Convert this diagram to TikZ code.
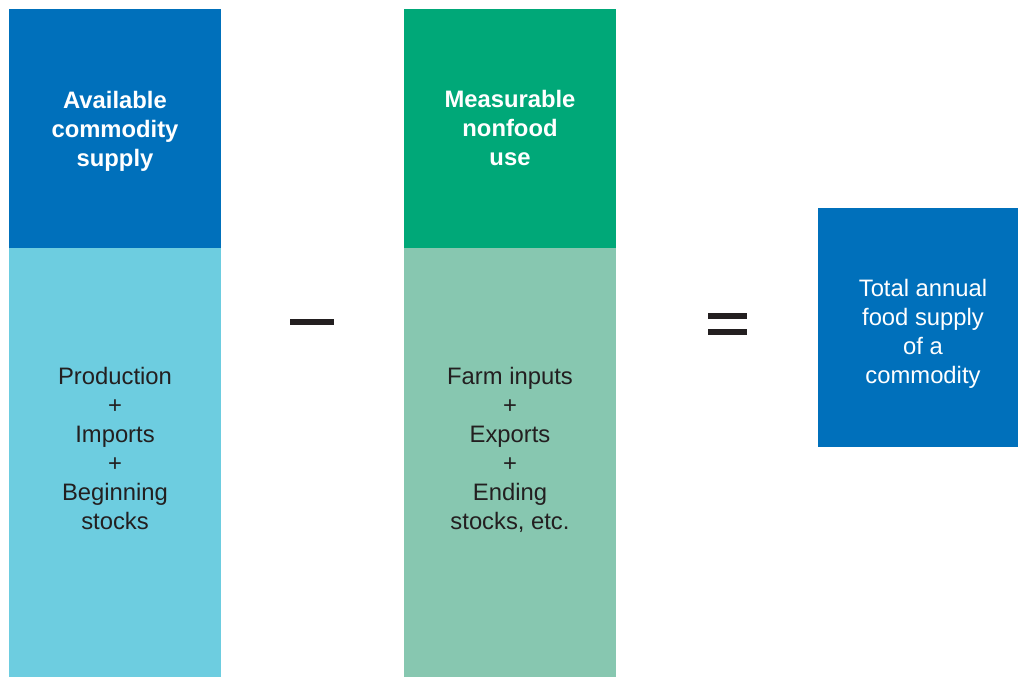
\documentclass[tikz,border=0pt]{standalone}
\usepackage{fontspec}
\setmainfont{Liberation Sans}
\definecolor{dblue}{HTML}{0070BB}
\definecolor{lblue}{HTML}{6DCDE0}
\definecolor{dgreen}{HTML}{00A878}
\definecolor{lgreen}{HTML}{87C7B0}
\definecolor{ink}{HTML}{231F20}
\begin{document}
\begin{tikzpicture}[x=1pt,y=-1pt,
  lbl/.style={align=center,font=\fontsize{23.8}{29}\selectfont,text=ink,inner sep=0pt},
  hdr/.style={align=center,font=\fontsize{23.8}{29}\selectfont\bfseries,text=white,inner sep=0pt},
  op/.style={fill=ink,draw=none}]
\useasboundingbox (0,0) rectangle (1018,677);
\fill[dblue] (9,9) rectangle (221,248);
\fill[lblue] (9,248) rectangle (221,677);
\fill[dgreen] (404,9) rectangle (616,248);
\fill[lgreen] (404,248) rectangle (616,677);
\fill[dblue] (818,208) rectangle (1018,447);
\node[hdr] (h1) at (115,131) {Available\\commodity\\supply};
\node[lbl] (b1) at (115,448) {Production\\+\\Imports\\+\\Beginning\\stocks};
\node[hdr] (h2) at (510,128) {Measurable\\nonfood\\use};
\node[lbl] (b2) at (510,450) {Farm inputs\\+\\Exports\\+\\Ending\\stocks, etc.};
\node[lbl,text=white] (r) at (923,333.5) {Total annual\\food supply\\of a\\commodity};
\fill[op] (290,319) rectangle (334,324.5);
\fill[op] (708,313) rectangle (747,319);
\fill[op] (708,329) rectangle (747,335);
\end{tikzpicture}
\end{document}
